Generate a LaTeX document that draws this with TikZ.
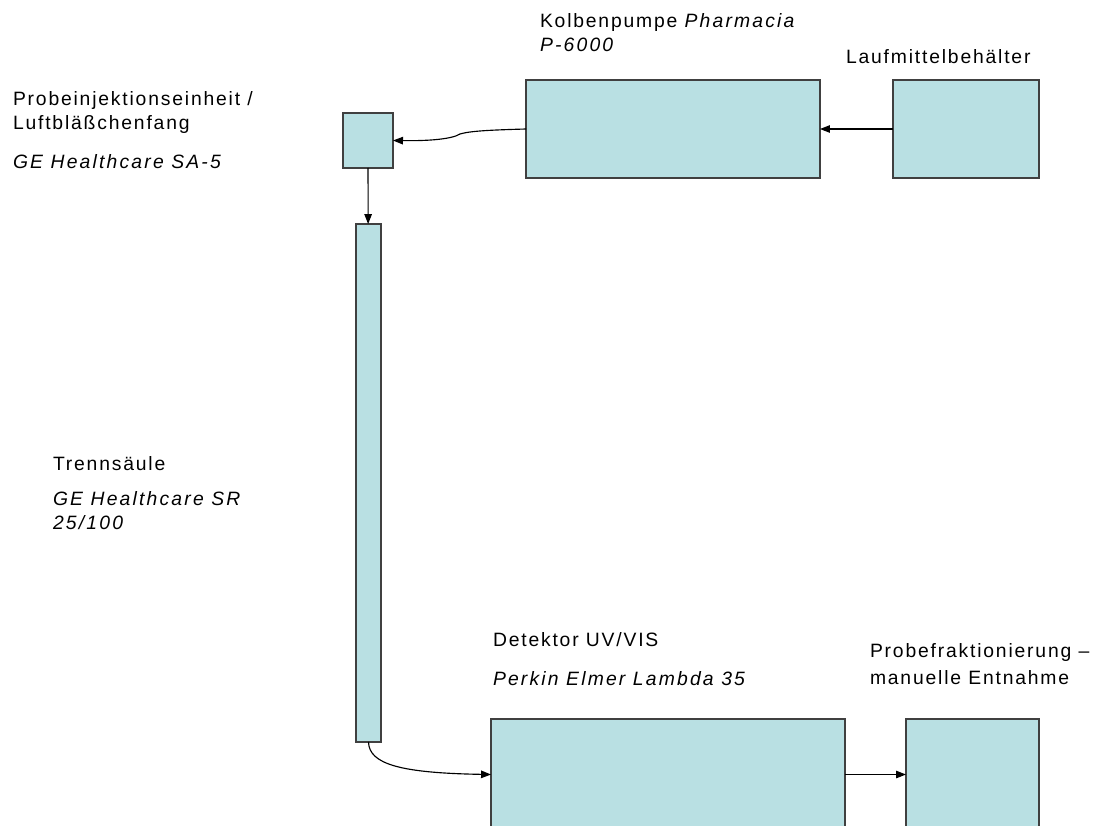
\documentclass[tikz,border=0pt]{standalone}
\usepackage{fontspec}
\usetikzlibrary{arrows.meta}
\newfontfamily\lbfont[LetterSpace=9.4,ItalicFeatures={LetterSpace=11.3}]{Liberation Sans}
\definecolor{boxfill}{RGB}{185,224,227}
\definecolor{boxline}{RGB}{64,64,64}

\begin{document}
\begin{tikzpicture}[x=0.02cm,y=-0.02cm,inner sep=0pt,outer sep=0pt,line width=0.65pt,
>={Triangle[length=2mm,width=1.5mm]},
sysblock/.style={draw=boxline,fill=boxfill,rectangle,line width=0.8pt},
lbl/.style={anchor=base west,font=\lbfont\fontsize{11}{13}\selectfont}]

\useasboundingbox (0,0) rectangle (1094,825);
\clip (0,0) rectangle (1094,825);

\draw (368,140.5) node[sysblock,minimum width=1cm,minimum height=1.1cm] (inj) {};
\draw (673,129) node[sysblock,minimum width=5.88cm,minimum height=1.96cm] (pump) {};
\draw (966,129) node[sysblock,minimum width=2.92cm,minimum height=1.96cm] (res) {};
\draw (368.5,483) node[sysblock,minimum width=0.5cm,minimum height=10.36cm] (col) {};
\draw (668,774.5) node[sysblock,minimum width=7.08cm,minimum height=2.22cm] (det) {};
\draw (972.5,774.5) node[sysblock,minimum width=2.66cm,minimum height=2.22cm] (frac) {};

% labels
\draw (540,27) node[lbl] (pumplbl) {Kolbenpumpe \textit{Pharmacia}};
\draw (540,51.5) node[lbl] (pumptyp) {\textit{P-6000}};
\draw (846,63) node[lbl] (reslbl) {Laufmittelbehälter};
\draw (13,105) node[lbl] (injlbl) {Probeinjektionseinheit /};
\draw (13,129.5) node[lbl] (injlblb) {Luftbläßchenfang};
\draw (13,168) node[lbl] (injtyp) {\textit{GE Healthcare SA-5}};
\draw (53,470) node[lbl] (collbl) {Trennsäule};
\draw (53,505) node[lbl] (coltyp) {\textit{GE Healthcare SR}};
\draw (53,529.5) node[lbl] (coltypb) {\textit{25/100}};
\draw (493,646.5) node[lbl] (detlbl) {Detektor UV/VIS};
\draw (493,685) node[lbl] (dettyp) {\textit{Perkin Elmer Lambda 35}};
\draw (870,657) node[lbl] (fraclbl) {Probefraktionierung –};
\draw (870,684) node[lbl] (fraclblb) {manuelle Entnahme};

% flow
\draw[->] (res) -- (pump);
\draw[->] (pump.west) .. controls (490,130) and (470,131) .. (460,134) .. controls (452,139) and (430,141) .. (inj.east);
\draw[->] (inj) -- (col);
\draw[->] (col.south) .. controls (369,764) and (400,773) .. (det.west);
\draw[->] (det) -- (frac);
\end{tikzpicture}
\end{document}
